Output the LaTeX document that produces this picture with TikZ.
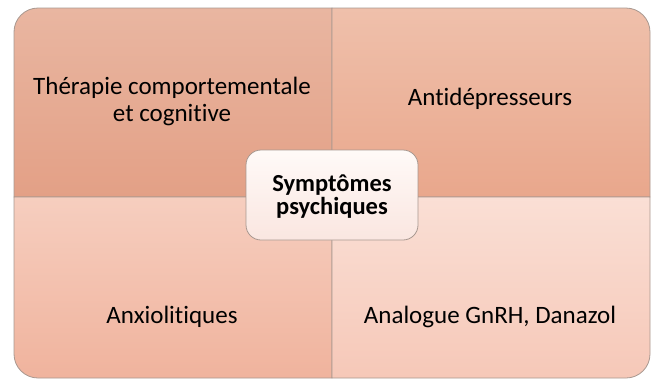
\documentclass[tikz,border=0pt]{standalone}
\usepackage{fontspec}
\setmainfont{Carlito}[Ligatures=CommonOff]
\definecolor{tlA}{HTML}{E9B6A1}
\definecolor{tlB}{HTML}{E3A086}
\definecolor{trA}{HTML}{EFC0AB}
\definecolor{trB}{HTML}{E9A78C}
\definecolor{blA}{HTML}{F6CEBF}
\definecolor{blB}{HTML}{F0B39D}
\definecolor{brA}{HTML}{FADFD5}
\definecolor{brB}{HTML}{F6C8B8}
\definecolor{edge}{HTML}{A89890}
\definecolor{ctrA}{HTML}{FFFAF8}
\definecolor{ctrB}{HTML}{FAE6E0}
\tikzset{
  quad/.style={draw=edge, line width=0.8pt},
  qtext/.style={font=\fontsize{25}{27}\selectfont, align=center, text=black},
  center/.style={draw=edge, line width=0.8pt, rounded corners=15pt, top color=ctrA, bottom color=ctrB,
    minimum width=172pt, minimum height=90pt, font=\fontsize{24.5}{23}\selectfont\bfseries, align=center}
}
\begin{document}
\begin{tikzpicture}[x=1pt,y=-1pt]
\useasboundingbox (0,0) rectangle (656,381);
% quadrants
\shade[quad, top color=tlA, bottom color=tlB] (332,197) -- (14,197) [rounded corners=24pt] -- (14,8) [sharp corners] -- (332,8) -- cycle;
\shade[quad, top color=trA, bottom color=trB] (332,197) -- (332,8) [rounded corners=24pt] -- (650,8) [sharp corners] -- (650,197) -- cycle;
\shade[quad, top color=blA, bottom color=blB] (332,197) -- (14,197) [rounded corners=24pt] -- (14,378) [sharp corners] -- (332,378) -- cycle;
\shade[quad, top color=brA, bottom color=brB] (332,197) -- (332,378) [rounded corners=24pt] -- (650,378) [sharp corners] -- (650,197) -- cycle;
% texts
\node[qtext] (tl) at (172,101) {Thérapie comportementale\\et cognitive};
\node[qtext] (tr) at (490,99) {Antidépresseurs};
\node[qtext] (bl) at (172,317) {Anxiolitiques};
\node[qtext] (br) at (490,317) {Analogue GnRH, Danazol};
% center
\node[center, inner sep=0pt] (c) at (332,195) {};
\node[font=\fontsize{24.5}{23}\selectfont\bfseries, align=center] (ct) at (332,197) {Symptômes\\psychiques};
\end{tikzpicture}
\end{document}
